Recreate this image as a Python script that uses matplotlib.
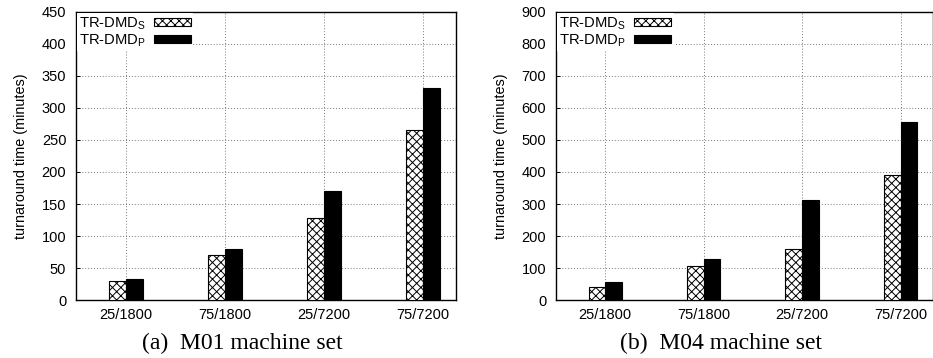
import numpy as np
import matplotlib
matplotlib.use('Agg')
import matplotlib.pyplot as plt

plt.rcParams['font.family'] = ['Liberation Sans', 'DejaVu Sans']
plt.rcParams['hatch.linewidth'] = 0.7

# data
categories = ['25/1800', '75/1800', '25/7200', '75/7200']
m01_serial = [30, 70, 128, 266]
m01_parallel = [33, 80, 170, 332]
m04_serial = [40, 107, 160, 390]
m04_parallel = [55, 127, 313, 555]

fig = plt.figure(figsize=(9.33, 3.58), dpi=100)
ax1 = fig.add_axes([0.0815, 0.162, 0.4072, 0.8045])
ax2 = fig.add_axes([0.596, 0.162, 0.404, 0.8045])

x = np.arange(len(categories))
w = 0.17


def draw(ax, s, p, ymax, step, caption, cx):
    ax.bar(x - w / 2, s, w, facecolor='white', edgecolor='black', hatch='xxxx',
           linewidth=0.8, label=r'TR-DMD$_\mathregular{S}$', zorder=3)
    ax.bar(x + w / 2, p, w, facecolor='black', edgecolor='black',
           linewidth=0.8, label=r'TR-DMD$_\mathregular{P}$', zorder=3)
    ax.set_xlim(-0.5, 3.33)
    ax.set_ylim(0, ymax)
    ax.set_yticks(np.arange(0, ymax + 1, step))
    ax.set_xticks(x)
    ax.set_xticklabels(categories)
    ax.grid(True, linestyle=(0, (1, 2)), color='#777777', linewidth=0.7, zorder=0)
    ax.tick_params(direction='in', length=3, labelsize=10.5, width=0.7)
    ax.tick_params(axis='x', pad=6)
    ax.tick_params(axis='y', pad=7)
    for sp in ax.spines.values():
        sp.set_linewidth(1.0)
    ax.set_ylabel('turnaround time (minutes)', fontsize=10.4, labelpad=10)
    leg = ax.legend(loc='upper left', markerfirst=False, fontsize=10.6,
                    handlelength=2.5, handleheight=0.5, labelspacing=0.05,
                    borderpad=0.15, borderaxespad=0.05, handletextpad=0.6,
                    frameon=True, fancybox=False, framealpha=1.0)
    leg.get_frame().set_edgecolor('none')
    leg.get_frame().set_facecolor('white')
    leg.set_zorder(5)
    fig.text(cx, 0.042, caption, ha='center', va='center',
             family=['Liberation Serif', 'DejaVu Serif'], fontsize=17)


draw(ax1, m01_serial, m01_parallel, 450, 50, '(a)  M01 machine set', 242 / 933)
draw(ax2, m04_serial, m04_parallel, 900, 100, '(b)  M04 machine set', 721 / 933)

fig.savefig('out.png', dpi=100)
